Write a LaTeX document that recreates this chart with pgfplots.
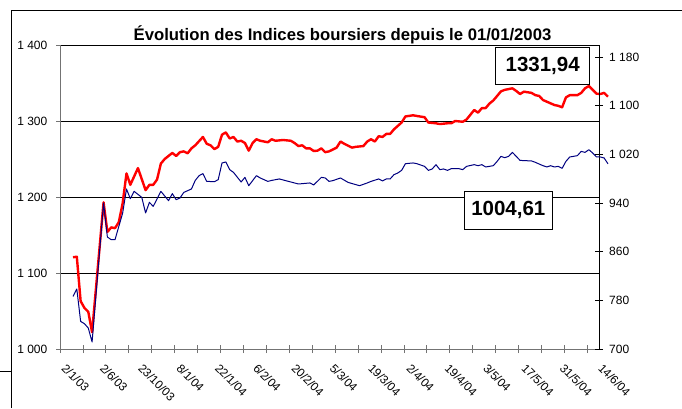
\documentclass[border=0pt]{standalone}
\usepackage{fontspec}
\setmainfont{Liberation Sans}
\usepackage{pgfplots}
\usepackage{pgfplotstable}
\pgfplotsset{compat=1.18}

\pgfplotstableread{
i v
0 1120.7
1 1121.4
2 1063
3 1054
4 1049
5 1022
8 1193
9 1154
10 1160
11 1159
12 1167
13 1192
14 1231
15 1216
17 1238
19 1209
20 1216
21 1216
22 1223
23 1244
24 1250
26 1258
27 1254
28 1259
29 1260
30 1257.5
31 1264
32 1268
34 1279
35 1270
36 1268
37 1263
38 1266
39 1282
40 1285
41 1277
42 1279
43 1273
44 1274
45 1271
46 1261
47 1271
48 1276
49 1274
51 1272
52 1276
53 1274
55 1275
57 1274
58 1271
59 1267
60 1268
61 1264
62 1264
63 1260.5
64 1261
65 1264
66 1259
67 1260
69 1265
70 1273
71 1270
73 1265
74 1266
76 1267
77 1273
78 1276
79 1273
80 1280
81 1279
82 1283
83 1283
84 1289
86 1298
87 1306
89 1307.5
90 1306.6
92 1305
93 1298
95 1297
96 1296
98 1297
99 1297
100 1300
102 1299
103 1302
105 1314.5
106 1311
107 1317
108 1317
109 1323
110 1327
112 1339
113 1341
114 1342
115 1343
116 1339.5
117 1335.5
118 1338.6
120 1337
121 1334
122 1333
123 1327.6
124 1325.4
126 1321
127 1320
128 1318
129 1331
130 1334
132 1334
133 1337
134 1343
135 1346
136 1341
137 1336
138 1335.5
139 1337
140 1331.94
}\redtable

\pgfplotstableread{
i v
0 786.5
1 798.7
2 745.4
3 741.6
4 734.5
5 711.5
8 940.2
9 884.2
10 879.8
11 879.8
13 923.7
14 963.2
15 947.2
16 959.3
18 949.4
19 923.7
20 941.2
21 934.6
23 959.3
25 944
26 955.5
27 945.6
28 948.4
29 957.6
31 963.2
32 977.3
33 985.1
34 988.4
35 975.7
37 975.2
38 978.5
39 1006
40 1007.6
41 995
42 990.5
44 974.7
45 982.3
46 968.6
48 985.1
49 981.3
51 975.7
52 977.3
54 979.7
55 978
57 974.7
59 971.4
62 973.1
63 969.8
65 982.3
66 981.3
67 975.7
68 976.9
70 981.3
72 974
75 968.6
77 973.1
78 975.7
80 979.7
81 976.4
82 979.7
83 979.7
84 986.7
85 989.5
86 993.8
87 1004.8
89 1006
90 1004.8
92 1000.4
93 993.8
94 996.1
95 1003.2
96 995
97 996.1
98 993.8
99 996.6
101 996.6
102 995
103 1000.4
105 1003.2
106 1001.5
107 1003.2
108 999.4
110 1001.5
111 1008.6
112 1016.8
113 1014.7
114 1016.8
115 1023.4
116 1016.8
117 1010.2
120 1009.3
121 1007
123 1001.5
124 999.4
125 1001.5
126 999.4
127 1000.4
128 997.1
129 1008.6
130 1015.8
132 1018
133 1025
134 1023.4
135 1027.8
136 1022.4
137 1015.8
138 1015.8
139 1014.2
140 1004.61
}\bluetable

\definecolor{axgray}{gray}{0.45}
\definecolor{navyline}{RGB}{0,0,128}

\begin{document}
\begin{tikzpicture}[x=1bp,y=1bp]
\useasboundingbox (0,0) rectangle (682,408);
% outer frame
\draw[line width=1bp] (11,0) -- (11,397) -- (682,397);
\draw[line width=1bp] (0,36.3) -- (11,36.3);

\begin{axis}[
  at={(60bp,59bp)}, anchor=south west,
  scale only axis, width=539bp, height=304bp,
  xmin=-3.4, xmax=137.66, ymin=1000, ymax=1400,
  clip=false,
  axis lines*=left,
  axis line style={axgray, line width=1bp, -},
  every tick/.style={axgray, line width=0.8bp},
  ytick={1000,1100,1200,1300,1400},
  yticklabels={1 000,1 100,1 200,1 300,1 400},
  ytick align=outside,
  ymajorgrids,
  grid style={black, line width=0.9bp},
  xtick={-3.4,2.6,8.6,14.6,20.6,26.6,32.6,38.6,44.6,50.6,56.6,62.6,68.6,74.6,80.6,86.6,92.6,98.6,104.6,110.6,116.6,122.6,128.6,134.6},
  xticklabels={},
  xtick align=center,
  major tick length=8bp,
  y tick style={/pgfplots/major tick length=4bp},
  yticklabel style={font=\fontsize{12bp}{14bp}\selectfont, inner sep=0pt, xshift=-4.5bp},
  extra x ticks={-3.4,6.63,16.66,26.69,36.72,46.75,56.78,66.81,76.84,86.87,96.9,106.93,116.96,126.99,137.02},
  extra x tick labels={2/1/03,2/6/03,23/10/03,8/1/04,22/1/04,6/2/04,20/2/04,5/3/04,19/3/04,2/4/04,19/4/04,3/5/04,17/5/04,31/5/04,14/6/04},
  extra x tick style={
    major tick length=0pt, grid=none,
    xticklabel style={font=\fontsize{11.8bp}{14bp}\selectfont, inner sep=0pt,
      xshift=7bp, yshift=-14bp, rotate=-45, anchor=north west}},
]
\addplot[red, line width=2.4bp, line join=round] table[x=i, y=v] {\redtable};
\end{axis}

\begin{axis}[
  at={(60bp,59bp)}, anchor=south west,
  scale only axis, width=539bp, height=304bp,
  xmin=-3.4, xmax=137.66, ymin=700, ymax=1200,
  clip=false,
  axis x line=none,
  axis y line*=right,
  axis line style={black, line width=1bp, -},
  every tick/.style={black, line width=0.8bp},
  ytick={700,780,860,940,1020,1100,1180},
  yticklabels={700,780,860,940,1 020,1 100,1 180},
  ytick align=center,
  major tick length=8bp,
  yticklabel style={font=\fontsize{12bp}{14bp}\selectfont, inner sep=0pt, xshift=6bp},
]
\addplot[navyline, line width=1bp, line join=round] table[x=i, y=v] {\bluetable};
\end{axis}

% title
\node[font=\fontsize{16.7bp}{19bp}\selectfont\bfseries] at (342.5,373) {Évolution des Indices boursiers depuis le 01/01/2003};

% value boxes
\node[draw=black, line width=1bp, fill=white, minimum width=94bp, minimum height=37.3bp, inner sep=0pt,
      font=\fontsize{20.5bp}{24bp}\selectfont\bfseries] at (542.7,342.3) {1331,94};
\node[draw=black, line width=1bp, fill=white, minimum width=88bp, minimum height=38.3bp, inner sep=0pt,
      font=\fontsize{20.5bp}{24bp}\selectfont\bfseries] at (508.3,197.8) {1004,61};
\end{tikzpicture}
\end{document}
